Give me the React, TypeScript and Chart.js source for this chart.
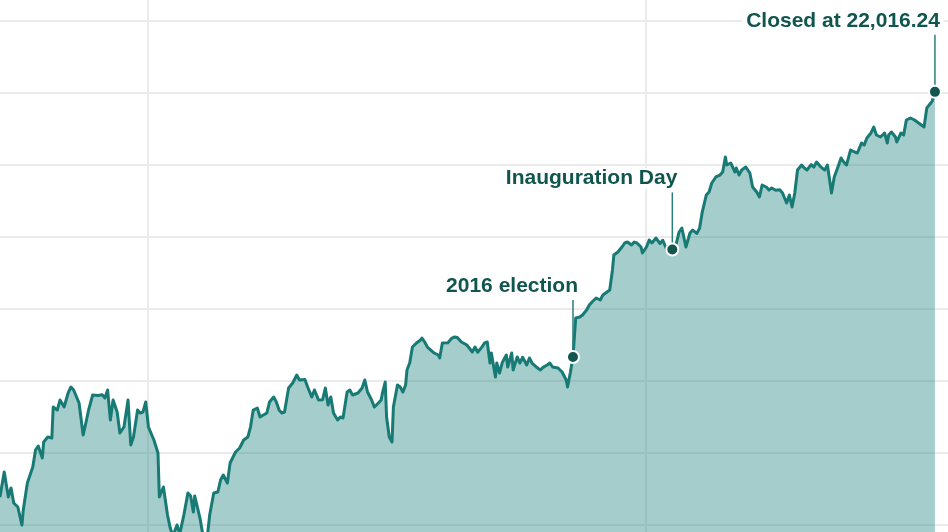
import React, { useEffect, useRef } from "react";
import { Chart, registerables } from "chart.js";

Chart.register(...registerables);

// Days since 2016-01-01 (x) and Dow Jones closing values (y)
const dayOffsets: number[] = [
  -110, -109, -106, -103, -101, -99, -96, -93, -92, -89, -85, -83, -81, -78, -77, -74, -71, -70, -67, -65,
  -62, -59, -57, -55, -51, -48, -46, -44, -41, -37, -34, -32, -30, -28, -26, -23, -21, -18, -15, -13,
  -11, -8, -6, -4, -2, 0, 4, 7, 8, 11, 14, 16, 18, 21, 23, 26, 29, 31, 33, 34,
  38, 40, 43, 45, 48, 51, 53, 55, 58, 60, 64, 67, 70, 73, 75, 77, 80, 82, 87, 89,
  92, 94, 96, 98, 100, 103, 106, 109, 111, 115, 117, 120, 122, 125, 128, 130, 132, 134, 136, 139,
  141, 143, 146, 148, 150, 154, 157, 159, 161, 164, 166, 169, 171, 172, 174, 175, 177, 179, 180, 183,
  185, 187, 189, 190, 192, 194, 197, 200, 201, 203, 205, 210, 213, 214, 216, 220, 223, 225, 227, 230,
  234, 238, 240, 242, 245, 247, 249, 251, 252, 255, 256, 258, 260, 263, 264, 267, 268, 271, 273, 275,
  278, 280, 282, 285, 288, 290, 293, 295, 297, 301, 304, 307, 308, 310, 312, 313, 314, 317, 319, 322,
  324, 326, 329, 332, 334, 337, 339, 341, 342, 345, 348, 350, 352, 355, 357, 359, 362, 363, 366, 368,
  370, 373, 376, 378, 381, 385, 388, 390, 392, 395, 398, 400, 403, 405, 407, 410, 412, 414, 417, 420,
  422, 424, 425, 428, 431, 432, 434, 436, 439, 442, 444, 447, 449, 451, 454, 456, 458, 461, 464, 466,
  469, 471, 473, 475, 477, 480, 482, 484, 487, 489, 491, 494, 497, 499, 502, 504, 506, 509, 511, 513,
  516, 519, 521, 524, 526, 528, 531, 533, 535, 538, 541, 543, 544, 546, 549, 550, 553, 555, 557, 560,
  563, 565, 568, 570, 572, 575, 576, 578,
];

const closes: number[] = [
  16486, 16403, 16736, 16389, 16514, 16306, 16250, 16000, 16209, 16584, 16806, 17042, 17097, 16931, 17153, 17222, 17208, 17639, 17597, 17736,
  17639, 17834, 17917, 17875, 17695, 17250, 17417, 17597, 17806, 17800, 17810, 17764, 17875, 17459, 17736, 17570, 17278, 17361, 17736, 17111,
  17222, 17597, 17556, 17570, 17709, 17361, 17181, 17000, 16389, 16528, 16139, 15959, 15848, 16000, 15875, 16139, 16445, 16403, 16181, 16403,
  16084, 15861, 15792, 16139, 16445, 16459, 16625, 16695, 16584, 16861, 17014, 17070, 17181, 17222, 17361, 17597, 17625, 17500, 17556, 17709,
  17778, 17709, 17597, 17556, 17570, 17903, 17972, 18084, 18014, 18020, 17917, 17778, 17875, 17736, 17740, 17903, 17667, 17778, 17556, 17459,
  17500, 17486, 17847, 17875, 17806, 17834, 17903, 18014, 17847, 17736, 17639, 17695, 17736, 17834, 17986, 17500, 17222, 17153, 17639, 17945,
  17917, 17847, 17945, 18153, 18250, 18472, 18528, 18570, 18597, 18542, 18472, 18389, 18361, 18320, 18528, 18530, 18597, 18611, 18605, 18542,
  18500, 18403, 18472, 18400, 18470, 18528, 18542, 18250, 18389, 18056, 18250, 18111, 18255, 18361, 18195, 18389, 18153, 18334, 18250, 18330,
  18222, 18320, 18245, 18195, 18153, 18190, 18222, 18250, 18195, 18181, 18125, 18014, 17917, 18111, 18332.74, 18611, 18875, 18889, 18917, 18986,
  19056, 19097, 19153, 19125, 19195, 19236, 19264, 19542, 19750, 19792, 19861, 19917, 19931, 19889, 19930, 19917, 19861, 19778, 19861, 19959,
  19917, 19986, 19910, 19955, 19820, 19827.25, 19917, 20070, 20125, 19861, 20056, 20097, 20050, 20120, 20347, 20584, 20625, 20750, 20834, 20861,
  20903, 21111, 21000, 21028, 20903, 20959, 20861, 20931, 20972, 20889, 20695, 20625, 20556, 20722, 20695, 20653, 20681, 20650, 20655, 20611,
  20472, 20584, 20417, 20611, 20931, 21000, 20959, 20931, 21005, 20972, 21042, 20975, 20931, 21000, 20611, 20834, 20935, 21097, 21042, 21000,
  21209, 21181, 21167, 21306, 21278, 21375, 21445, 21528, 21417, 21389, 21445, 21306, 21417, 21459, 21389, 21320, 21445, 21417, 21625, 21653,
  21625, 21597, 21556, 21528, 21792, 21861, 21889, 22016.24,
];

// Gridline positions
const yTicks: number[] = [16000, 17000, 18000, 19000, 20000, 21000, 22000, 23000];
const xTicks: number[] = [0, 366]; // Jan 1 2016, Jan 1 2017

// Annotations
const annotationDays: number[] = [312, 385, 578];
const annotationLabels: string[] = ["2016 election", "Inauguration Day", "Closed at 22,016.24"];

const LINE = "#177a74";
const TEXT = "#10564f";
const DOT = "#13554f";

export default function App() {
  const ref = useRef<HTMLCanvasElement | null>(null);

  useEffect(() => {
    document.body.style.margin = "0";
    const canvas = ref.current;
    if (!canvas) return;

    const points = dayOffsets.map((d, i) => ({ x: d, y: closes[i] }));
    const annPoints = annotationDays.map((d) => ({ x: d, y: closes[dayOffsets.indexOf(d)] }));

    const annotationPlugin = {
      id: "annotations",
      afterDatasetsDraw(chart: any) {
        const { ctx, scales } = chart;
        const xs = scales.x;
        const ys = scales.y;
        ctx.save();
        annPoints.forEach((p, i) => {
          const px = xs.getPixelForValue(p.x);
          const py = ys.getPixelForValue(p.y);
          ctx.strokeStyle = "#2b7f79";
          ctx.lineWidth = 1.5;
          ctx.beginPath();
          ctx.moveTo(px, py - 57);
          ctx.lineTo(px, py - 7);
          ctx.stroke();
          ctx.font = "bold 21px 'Liberation Sans', Arial, sans-serif";
          const label = annotationLabels[i];
          const w = ctx.measureText(label).width;
          const tx = px + 5;
          const ty = py - 71;
          ctx.fillStyle = "#ffffff";
          ctx.fillRect(tx - w - 4, ty - 10, w + 8, 20);
          ctx.fillStyle = TEXT;
          ctx.textAlign = "right";
          ctx.textBaseline = "middle";
          ctx.fillText(label, tx, ty);
        });
        ctx.restore();
      },
    };

    const chart = new Chart(canvas, {
      type: "line",
      data: {
        datasets: [
          {
            type: "scatter",
            data: annPoints,
            pointRadius: 6,
            pointBorderWidth: 2,
            pointBackgroundColor: DOT,
            pointBorderColor: "#ffffff",
            order: 0,
          } as any,
          {
            data: points,
            borderColor: LINE,
            borderWidth: 3,
            borderJoinStyle: "round",
            backgroundColor: "rgba(30,130,125,0.4)",
            fill: "start",
            pointRadius: 0,
            tension: 0,
            order: 1,
          },
        ],
      },
      options: {
        animation: false,
        responsive: false,
        devicePixelRatio: 1,
        layout: { padding: 0, autoPadding: false },
        plugins: { legend: { display: false }, tooltip: { enabled: false } },
        scales: {
          x: {
            type: "linear",
            min: -109.1,
            max: 587.6,
            afterBuildTicks: (scale: any) => {
              scale.ticks = xTicks.map((v) => ({ value: v }));
            },
            ticks: { display: false },
            grid: { color: "#ebebeb", lineWidth: 2, drawTicks: false },
            border: { display: false },
          },
          y: {
            type: "linear",
            min: 15903,
            max: 23292,
            afterBuildTicks: (scale: any) => {
              scale.ticks = yTicks.map((v) => ({ value: v }));
            },
            ticks: { display: false },
            grid: { color: "#ebebeb", lineWidth: 2, drawTicks: false },
            border: { display: false },
          },
        },
      },
      plugins: [annotationPlugin],
    });

    return () => chart.destroy();
  }, []);

  return (
    <div style={{ position: "absolute", left: 0, top: 0, width: 948, height: 532 }}>
      <canvas ref={ref} width={948} height={532} style={{ width: 948, height: 532, display: "block" }} />
    </div>
  );
}
